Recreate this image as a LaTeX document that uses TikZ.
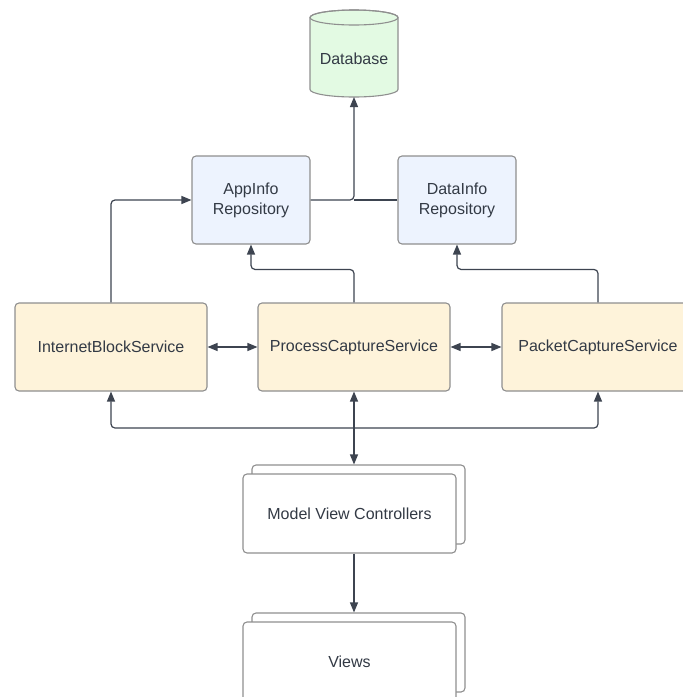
\documentclass[tikz,border=0pt]{standalone}
\usepackage{fontspec}
\setmainfont{Liberation Sans}
\usetikzlibrary{arrows.meta}
\definecolor{linec}{HTML}{3D4450}
\definecolor{borderc}{HTML}{8F8F8F}
\definecolor{dbfill}{HTML}{E3FAE3}
\definecolor{repofill}{HTML}{EDF3FE}
\definecolor{svcfill}{HTML}{FEF3DA}
\definecolor{txtc}{HTML}{333A45}
\tikzset{
  box/.style={draw=borderc, line width=1.1pt, rounded corners=4pt, align=center,
    text=txtc, font=\fontsize{16}{20}\selectfont, inner sep=0pt},
  repo/.style={box, fill=repofill, minimum width=118pt, minimum height=88pt},
  svc/.style={box, fill=svcfill, minimum width=192pt, minimum height=88pt},
  mvcbox/.style={box, fill=white, minimum width=213pt, minimum height=79pt},
  conn/.style={draw=linec, line width=1.2pt, rounded corners=4pt},
  arr/.style={conn, -{Triangle[length=10pt,width=8pt]}},
  darr/.style={conn, {Triangle[length=10pt,width=8pt]}-{Triangle[length=10pt,width=8pt]}},
}
\begin{document}
\begin{tikzpicture}[x=1pt,y=-1pt]
\useasboundingbox (0,0) rectangle (683,697);
\clip (0,0) rectangle (683,697);
\fill[white] (0,0) rectangle (683,697);
% Database cylinder
\filldraw[fill=dbfill, draw=borderc, line width=1.1pt]
  (310,17.5) -- (310,89.5) arc[start angle=180, end angle=0, x radius=44, y radius=7.5]
  -- (398,17.5) arc[start angle=360, end angle=180, x radius=44, y radius=7.5] -- cycle;
\draw[borderc, line width=1.1pt] (354,17.5) ellipse[x radius=44, y radius=7.5];
\node[text=txtc, font=\fontsize{16}{20}\selectfont] (db) at (354,59) {Database};
\coordinate (dbbot) at (354,97);
% Repositories
\node[repo] (app) at (251,200) {AppInfo\\Repository};
\node[repo] (data) at (457,200) {DataInfo\\Repository};
% Services
\node[svc] (ibs) at (111,347) {InternetBlockService};
\node[svc] (pcs) at (354,347) {ProcessCaptureService};
\node[svc] (pkt) at (598,347) {PacketCaptureService};
% MVC stack
\node[mvcbox] (mvcb) at (358.5,504.5) {};
\node[mvcbox] (mvc) at (349.5,513.5) {Model View Controllers};
% Views stack
\node[mvcbox] (vb) at (358.5,652.5) {};
\node[mvcbox] (views) at (349.5,661.5) {Views};
% Connectors
\draw[arr] (app.east) -| (dbbot);
\draw[conn] (data.west) -- (app.east -| dbbot);
\draw[arr] (ibs.north) |- (app.west);
\draw[arr] (pcs.north) -- ++(0,-33) -| (app.south);
\draw[arr] (pkt.north) -- ++(0,-33) -| (data.south);
\draw[darr] (ibs.east) -- (pcs.west);
\draw[darr] (pcs.east) -- (pkt.west);
\draw[darr] (pcs.south) -- (pcs.south |- mvcb.north);
\coordinate (j) at (354,428);
\draw[arr] (j) -| (ibs.south);
\draw[arr] (j) -| (pkt.south);
\draw[arr] (mvc.south -| pcs.south) -- (vb.north -| pcs.south);
\end{tikzpicture}
\end{document}
